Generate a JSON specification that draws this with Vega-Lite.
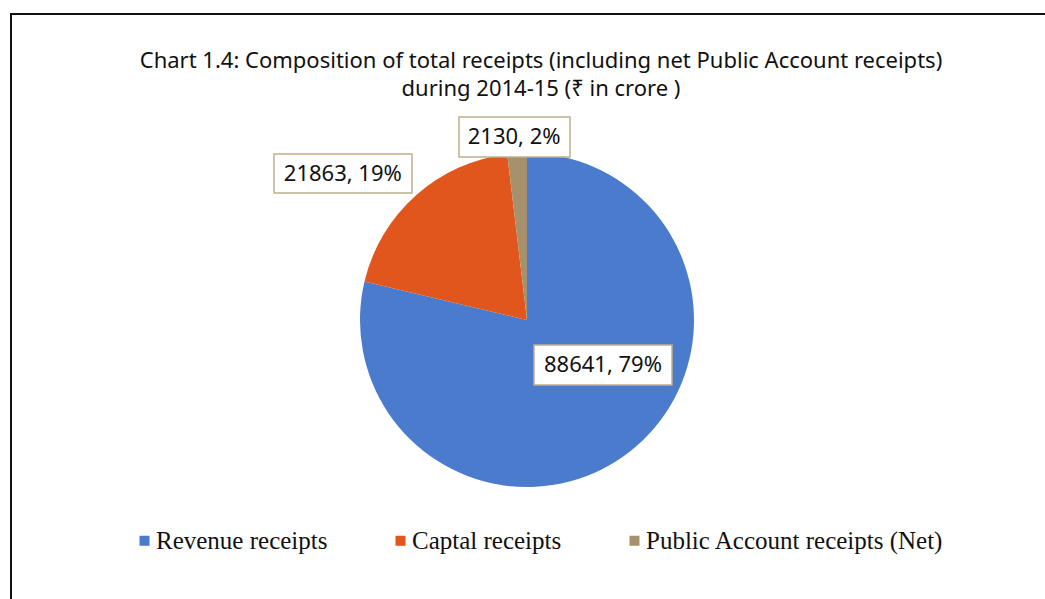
{
  "$schema": "https://vega.github.io/schema/vega-lite/v6.json",
  "autosize": "none",
  "width": 1040,
  "height": 589,
  "padding": {"left": 11, "top": 14, "right": -6, "bottom": -4},
  "background": "#ffffff",
  "title": {
    "text": ["Chart 1.4: Composition of total receipts (including net Public Account receipts)", "during 2014-15 (₹ in crore )"],
    "font": "Noto Sans",
    "fontSize": 22,
    "fontWeight": "normal",
    "color": "#111111",
    "anchor": "middle",
    "frame": "group",
    "offset": 0,
    "baseline": "top",
    "dy": 88,
    "dx": 10,
    "lineHeight": 28
  },
  "data": {
    "values": [
      {"category": "Revenue receipts", "value": 88641, "label": "88641, 79%", "rank": 1},
      {"category": "Captal receipts", "value": 21863, "label": "21863, 19%", "rank": 2},
      {"category": "Public Account receipts (Net)", "value": 2130, "label": "2130, 2%", "rank": 3}
    ]
  },
  "layer": [
    {
      "transform": [{"filter": "datum.rank === 1"}],
      "mark": {"type": "rect", "filled": false, "fill": null, "stroke": "#111111", "strokeWidth": 2},
      "encoding": {}
    },
    {
      "mark": {"type": "arc", "radius": 167, "xOffset": -4, "yOffset": 11.5},
      "encoding": {
        "theta": {"field": "value", "type": "quantitative", "stack": true},
        "order": {"field": "rank", "type": "quantitative"},
        "color": {
          "field": "category",
          "type": "nominal",
          "scale": {
            "domain": ["Revenue receipts", "Captal receipts", "Public Account receipts (Net)"],
            "range": ["#4a7bcd", "#e0561d", "#a7916d"]
          },
          "legend": {
            "orient": "none",
            "legendX": 121,
            "legendY": 514,
            "direction": "horizontal",
            "title": null,
            "symbolType": "square",
            "symbolSize": 100,
            "symbolStrokeWidth": 0,
            "labelFont": "Liberation Serif",
            "labelFontSize": 25,
            "labelLimit": 500,
            "labelColor": "#111111",
            "labelOffset": -1,
            "columnPadding": 60,
            "padding": 0
          }
        }
      }
    },
    {
      "transform": [{"filter": "datum.category === 'Public Account receipts (Net)'"}],
      "mark": {"type": "point", "shape": "M-1,-0.36L1,-0.36L1,0.36L-1,0.36Z", "size": 12321, "filled": true, "fill": "#ffffff", "stroke": "#bfb08f", "strokeWidth": 1.5, "opacity": 1, "xOffset": -16.5, "yOffset": -171.5},
      "encoding": {}
    },
    {
      "transform": [{"filter": "datum.category === 'Captal receipts'"}],
      "mark": {"type": "point", "shape": "M-1,-0.283L1,-0.283L1,0.283L-1,0.283Z", "size": 19044, "filled": true, "fill": "#ffffff", "stroke": "#bfb08f", "strokeWidth": 1.5, "opacity": 1, "xOffset": -188, "yOffset": -135},
      "encoding": {}
    },
    {
      "transform": [{"filter": "datum.category === 'Revenue receipts'"}],
      "mark": {"type": "point", "shape": "M-1,-0.29L1,-0.29L1,0.29L-1,0.29Z", "size": 19044, "filled": true, "fill": "#ffffff", "stroke": "#bfb08f", "strokeWidth": 1.5, "opacity": 1, "xOffset": 72, "yOffset": 56.5},
      "encoding": {}
    },
    {
      "mark": {"type": "text", "radius": 183, "dx": -6, "dy": 11.5, "font": "Noto Sans", "fontSize": 22, "fill": "#111111", "align": "center", "baseline": "middle"},
      "encoding": {
        "theta": {"field": "value", "type": "quantitative", "stack": true},
        "order": {"field": "rank", "type": "quantitative"},
        "detail": {"field": "category", "type": "nominal"},
        "text": {"condition": {"test": "datum.category === 'Public Account receipts (Net)'", "field": "label"}, "value": ""}
      }
    },
    {
      "mark": {"type": "text", "radius": 232, "dx": -33.7, "dy": 38.3, "font": "Noto Sans", "fontSize": 22, "fill": "#111111", "align": "center", "baseline": "middle"},
      "encoding": {
        "theta": {"field": "value", "type": "quantitative", "stack": true},
        "order": {"field": "rank", "type": "quantitative"},
        "detail": {"field": "category", "type": "nominal"},
        "text": {"condition": {"test": "datum.category === 'Captal receipts'", "field": "label"}, "value": ""}
      }
    },
    {
      "mark": {"type": "text", "radius": 82.5, "dx": 20.8, "dy": -8.2, "font": "Noto Sans", "fontSize": 22, "fill": "#111111", "align": "center", "baseline": "middle"},
      "encoding": {
        "theta": {"field": "value", "type": "quantitative", "stack": true},
        "order": {"field": "rank", "type": "quantitative"},
        "detail": {"field": "category", "type": "nominal"},
        "text": {"condition": {"test": "datum.category === 'Revenue receipts'", "field": "label"}, "value": ""}
      }
    }
  ],
  "config": {
    "view": {"stroke": "#111111", "strokeWidth": 2}
  }
}
